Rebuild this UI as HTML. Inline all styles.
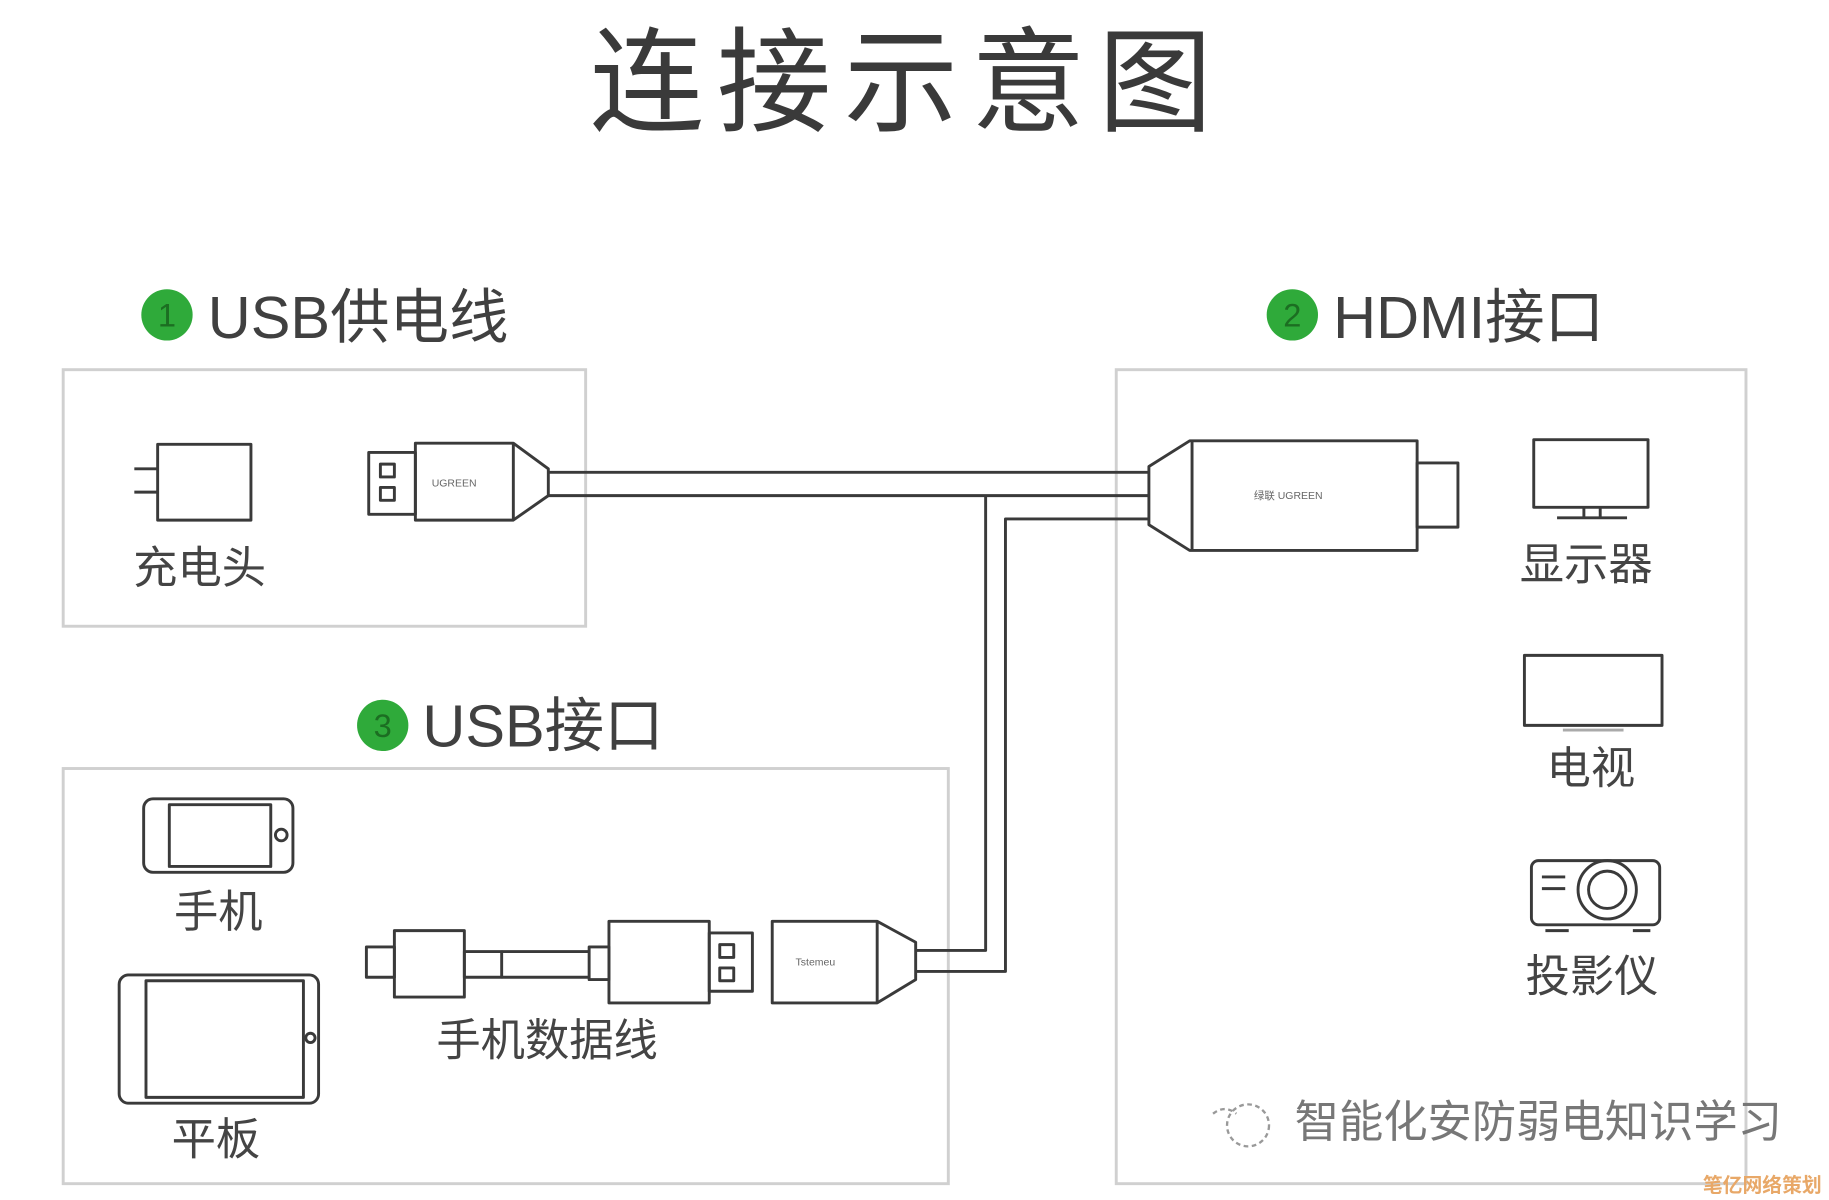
<!DOCTYPE html>
<html><head><meta charset="utf-8"><style>html,body{margin:0;padding:0;background:#fff}svg{display:block}</style></head>
<body>
<svg width="1829" height="1200" viewBox="0 0 1568 1029" xmlns="http://www.w3.org/2000/svg" font-family="'Liberation Sans','Noto Sans CJK SC',sans-serif">
<rect width="1568" height="1029" fill="#fff"/>
<text x="778" y="105" font-size="98" fill="#3a3a3a" text-anchor="middle" letter-spacing="11">连接示意图</text>

<g fill="none" stroke="#d0d0d0" stroke-width="2.5">
<rect x="54" y="317" width="448" height="220"/>
<rect x="957" y="317" width="540" height="698"/>
<rect x="54" y="659" width="759" height="356"/>
</g>

<g fill="#2faa3a"><circle cx="143" cy="270" r="22"/><circle cx="1108" cy="270" r="22"/><circle cx="328" cy="622" r="22"/></g>
<g font-size="28" fill="#1c6e22" text-anchor="middle"><text x="143" y="280">1</text><text x="1108" y="280">2</text><text x="328" y="632">3</text></g>
<g font-size="51" fill="#404040">
<text x="178" y="290">USB供电线</text>
<text x="1143" y="290">HDMI接口</text>
<text x="362" y="640">USB接口</text>
</g>

<g fill="none" stroke="#3a3a3a" stroke-width="2.5" stroke-linejoin="round">
<rect x="135" y="381" width="80" height="65"/>
<line x1="115" y1="402" x2="135" y2="402"/><line x1="115" y1="422" x2="135" y2="422"/>
<rect x="316" y="388" width="40" height="53"/>
<rect x="326" y="398" width="12" height="11"/><rect x="326" y="418" width="12" height="11"/>
<path d="M356 380 H440 L470 402 V425 L440 446 H356 Z"/>
<line x1="440" y1="380" x2="440" y2="446"/>
<line x1="470" y1="405" x2="985" y2="405"/>
<line x1="470" y1="425" x2="985" y2="425"/>
<polyline points="985,445 862,445 862,833 785,833"/>
<polyline points="845,425 845,815 785,815"/>
<path d="M1020 378 H1215 V472 H1020 L985 450 V400 Z"/>
<line x1="1022" y1="378" x2="1022" y2="472"/>
<rect x="1215" y="397" width="35" height="55"/>
<rect x="1315" y="377" width="98" height="58"/>
<line x1="1358" y1="435" x2="1358" y2="443"/><line x1="1372" y1="435" x2="1372" y2="443"/>
<line x1="1335" y1="444" x2="1395" y2="444"/>
<rect x="1307" y="562" width="118" height="60"/>
<line x1="1340" y1="626" x2="1392" y2="626" stroke="#aaa"/>
<rect x="1313" y="738" width="110" height="55" rx="6"/>
<circle cx="1378" cy="763" r="25"/><circle cx="1378" cy="763" r="16"/>
<line x1="1322" y1="752" x2="1342" y2="752"/><line x1="1322" y1="762" x2="1342" y2="762"/>
<line x1="1325" y1="798" x2="1345" y2="798"/><line x1="1400" y1="798" x2="1415" y2="798"/>
<rect x="123" y="685" width="128" height="63" rx="8"/>
<rect x="145" y="690" width="87" height="53"/>
<circle cx="241" cy="716" r="5"/>
<rect x="102" y="836" width="171" height="110" rx="8"/>
<rect x="125" y="841" width="135" height="100"/>
<circle cx="266" cy="890" r="4"/>
<rect x="314" y="812" width="24" height="26"/>
<rect x="338" y="798" width="60" height="57"/>
<rect x="398" y="816" width="32" height="22"/>
<line x1="430" y1="816" x2="505" y2="816"/><line x1="430" y1="838" x2="505" y2="838"/>
<rect x="505" y="812" width="17" height="28"/>
<rect x="522" y="790" width="86" height="70"/>
<rect x="608" y="800" width="37" height="50"/>
<rect x="617" y="810" width="12" height="11"/><rect x="617" y="830" width="12" height="11"/>
<path d="M662 790 H752 L785 808 V840 L752 860 H662 Z"/>
<line x1="752" y1="790" x2="752" y2="860"/>
</g>
<g font-size="9" fill="#666"><text x="370" y="417">UGREEN</text><text x="1075" y="428">绿联 UGREEN</text><text x="682" y="828">Tstemeu</text></g>

<g font-size="38" fill="#444">
<text x="114" y="500">充电头</text>
<text x="1303" y="497">显示器</text>
<text x="1326" y="672">电视</text>
<text x="1308" y="850">投影仪</text>
<text x="149" y="795">手机</text>
<text x="147" y="990">平板</text>
<text x="374" y="905">手机数据线</text>
</g>
<g fill="none" stroke="#999" stroke-width="2" stroke-dasharray="4 3"><circle cx="1070" cy="965" r="18"/><path d="M1040 955 q10 -8 20 0"/></g>
<text x="1110" y="975" font-size="38" fill="#777">智能化安防弱电知识学习</text>
<text x="1460" y="1022" font-size="17" fill="#e8a868" font-weight="bold">笔亿网络策划</text>
</svg>
</body></html>
